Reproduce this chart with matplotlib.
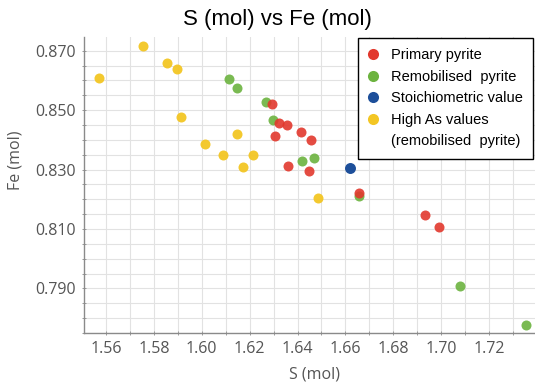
import matplotlib.pyplot as plt
from matplotlib.lines import Line2D
from matplotlib.ticker import FixedLocator, MultipleLocator

# values (S mol, Fe mol)
primary_s = [1.6295, 1.6324, 1.6356, 1.6306, 1.6415, 1.6455, 1.6361, 1.6448, 1.6656, 1.6931, 1.6992]
primary_fe = [0.8522, 0.8455, 0.8450, 0.8414, 0.8426, 0.8401, 0.8312, 0.8294, 0.8221, 0.8147, 0.8107]

remob_s = [1.6115, 1.6147, 1.6268, 1.6298, 1.6419, 1.6467, 1.6656, 1.7079, 1.7354]
remob_fe = [0.8604, 0.8576, 0.8526, 0.8466, 0.8328, 0.8340, 0.8210, 0.7909, 0.7778]

stoich_s = [1.6620]
stoich_fe = [0.8305]

high_as_s = [1.5571, 1.5756, 1.5856, 1.5895, 1.5912, 1.6014, 1.6087, 1.6146, 1.6213, 1.6171, 1.6484]
high_as_fe = [0.8608, 0.8715, 0.8657, 0.8640, 0.8476, 0.8387, 0.8348, 0.8421, 0.8348, 0.8310, 0.8204]

x_ticks = [1.56, 1.58, 1.60, 1.62, 1.64, 1.66, 1.68, 1.70, 1.72]
y_ticks = [0.790, 0.810, 0.830, 0.850, 0.870]

c_red, c_green, c_blue, c_yellow = '#e2382d', '#6cb33f', '#1d4f9a', '#f3c624'

fig = plt.figure(figsize=(5.35, 3.87), dpi=100)
ax = fig.add_axes([84 / 535, 1 - 333 / 387, 451 / 535, 296 / 387])

ms = 52
ax.scatter(high_as_s, high_as_fe, s=ms, c=c_yellow, lw=0, alpha=0.95, zorder=3)
ax.scatter(remob_s, remob_fe, s=ms, c=c_green, lw=0, alpha=0.9, zorder=3)
ax.scatter(primary_s, primary_fe, s=ms, c=c_red, lw=0, alpha=0.9, zorder=4)
ax.scatter(stoich_s, stoich_fe, s=ms * 1.2, c=c_blue, lw=0, zorder=5)

ax.set_xlim(1.5508, 1.7392)
ax.set_ylim(0.7750, 0.8746)

ax.xaxis.set_major_locator(FixedLocator(x_ticks))
ax.xaxis.set_minor_locator(MultipleLocator(0.01))
ax.yaxis.set_major_locator(FixedLocator(y_ticks))
ax.yaxis.set_minor_locator(MultipleLocator(0.005))
ax.set_xticklabels([f'{v:.2f}' for v in x_ticks])
ax.set_yticklabels([f'{v:.3f}' for v in y_ticks])

ax.grid(True, which='both', color='#e2e2e2', lw=0.8, zorder=0)
ax.set_axisbelow(True)
for side in ['top', 'right']:
    ax.spines[side].set_visible(False)
for side in ['left', 'bottom']:
    ax.spines[side].set_color('#8a8a8a')
    ax.spines[side].set_linewidth(1.0)

tick_font = dict(family='Open Sans', size=11.5)
ax.tick_params(which='both', direction='inout', length=3, color='#9a9a9a', width=0.7,
               labelcolor='#555555', pad=4)
for lab in ax.get_xticklabels() + ax.get_yticklabels():
    lab.set_fontfamily('Open Sans')
    lab.set_fontsize(11.5)

ax.set_xlabel('S (mol)', fontdict=tick_font, color='#555555')
ax.set_ylabel('Fe (mol)', fontdict=tick_font, color='#555555')
ax.xaxis.set_label_coords(0.51, -0.112)
ax.yaxis.set_label_coords(-0.135, 0.584)

fig.text(277 / 535, 1 - 19 / 387, 'S (mol) vs Fe (mol)', family='Liberation Sans',
         fontsize=16, ha='center', va='center', color='black')

handles = [
    Line2D([], [], ls='none', marker='o', ms=8, mfc=c_red, mec='none'),
    Line2D([], [], ls='none', marker='o', ms=8, mfc=c_green, mec='none'),
    Line2D([], [], ls='none', marker='o', ms=8, mfc=c_blue, mec='none'),
    Line2D([], [], ls='none', marker='o', ms=8, mfc=c_yellow, mec='none'),
    Line2D([], [], ls='none', marker=None),
]
labels = ['Primary pyrite', 'Remobilised  pyrite', 'Stoichiometric value',
          'High As values', '(remobilised  pyrite)']
leg = ax.legend(handles, labels, loc='upper right', bbox_to_anchor=(0.996, 0.997),
                borderaxespad=0, prop={'family': 'Liberation Sans', 'size': 10.5},
                fancybox=False, framealpha=1, edgecolor='black', handlelength=0.7,
                handletextpad=0.9, labelspacing=0.52, borderpad=0.7)
leg.get_frame().set_linewidth(1.0)

fig.savefig('out.png', dpi=100)
